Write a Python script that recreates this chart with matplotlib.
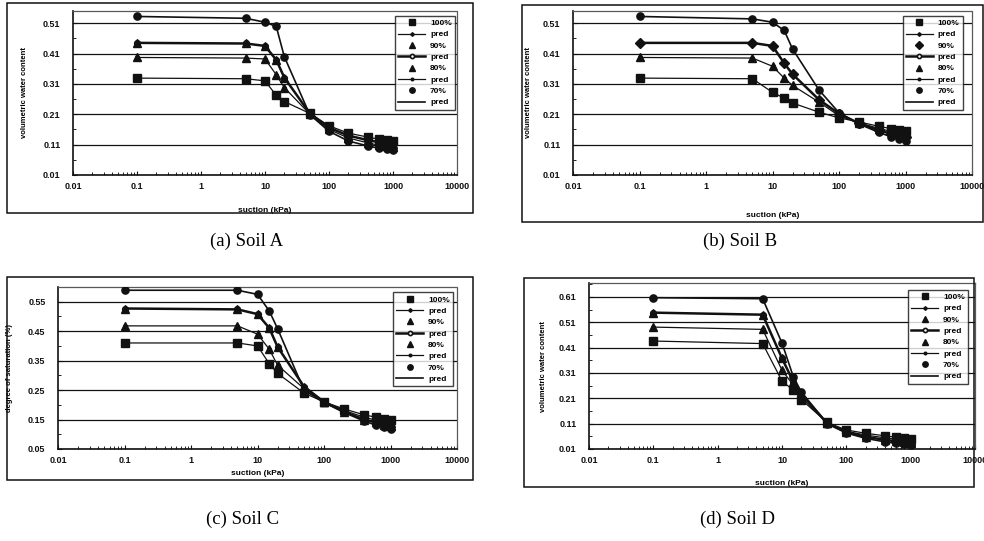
import numpy as np
import matplotlib.pyplot as plt
from matplotlib.patches import Rectangle
from matplotlib.ticker import FixedLocator, NullFormatter

plt.rcParams['font.family'] = ['Liberation Sans', 'DejaVu Sans']

suction = [0.1, 5, 10, 15, 20, 50, 100, 200, 400, 600, 800, 1000]
levels = ["100%", "90%", "80%", "70%"]
xtick_vals = [0.01, 0.1, 1, 10, 100, 1000, 10000]
xtick_labels = ["0.01", "0.1", "1", "10", "100", "1000", "10000"]

# soil A - volumetric water content
soilA_100 = [0.329, 0.327, 0.320, 0.272, 0.252, 0.213, 0.172, 0.148, 0.135, 0.128, 0.124, 0.122]
soilA_90 = [0.445, 0.443, 0.435, 0.389, 0.331, 0.213, 0.166, 0.140, 0.125, 0.118, 0.114, 0.112]
soilA_80 = [0.397, 0.395, 0.392, 0.340, 0.298, 0.211, 0.160, 0.132, 0.116, 0.108, 0.104, 0.102]
soilA_70 = [0.532, 0.526, 0.513, 0.499, 0.400, 0.209, 0.154, 0.122, 0.106, 0.098, 0.094, 0.092]

# soil B
soilB_100 = [0.329, 0.327, 0.282, 0.263, 0.247, 0.217, 0.198, 0.185, 0.170, 0.163, 0.158, 0.155]
soilB_90 = [0.445, 0.445, 0.435, 0.378, 0.342, 0.258, 0.212, 0.180, 0.157, 0.146, 0.139, 0.134]
soilB_80 = [0.397, 0.395, 0.368, 0.329, 0.305, 0.250, 0.205, 0.182, 0.163, 0.154, 0.148, 0.144]
soilB_70 = [0.532, 0.524, 0.513, 0.486, 0.425, 0.290, 0.215, 0.178, 0.150, 0.136, 0.128, 0.122]

# soil C - degree of saturation
soilC_100 = [0.410, 0.410, 0.400, 0.340, 0.307, 0.240, 0.210, 0.186, 0.166, 0.158, 0.153, 0.150]
soilC_90 = [0.527, 0.524, 0.508, 0.461, 0.397, 0.262, 0.210, 0.177, 0.150, 0.140, 0.133, 0.128]
soilC_80 = [0.468, 0.468, 0.440, 0.389, 0.335, 0.255, 0.210, 0.181, 0.158, 0.148, 0.142, 0.138]
soilC_70 = [0.589, 0.589, 0.575, 0.519, 0.459, 0.250, 0.208, 0.174, 0.145, 0.131, 0.123, 0.118]

# soil D
soilD_100 = [0.436, 0.426, 0.278, 0.242, 0.205, 0.115, 0.085, 0.072, 0.062, 0.056, 0.053, 0.051]
soilD_90 = [0.548, 0.540, 0.368, 0.275, 0.228, 0.112, 0.077, 0.058, 0.046, 0.040, 0.037, 0.035]
soilD_80 = [0.491, 0.482, 0.321, 0.262, 0.215, 0.113, 0.080, 0.065, 0.054, 0.048, 0.045, 0.043]
soilD_70 = [0.607, 0.603, 0.428, 0.295, 0.235, 0.110, 0.073, 0.052, 0.038, 0.032, 0.029, 0.027]

yticksA = [0.01, 0.11, 0.21, 0.31, 0.41, 0.51]
yticksC = [0.05, 0.15, 0.25, 0.35, 0.45, 0.55]
yticksD = [0.01, 0.11, 0.21, 0.31, 0.41, 0.51, 0.61]

panels = [
    dict(data=[soilA_100, soilA_90, soilA_80, soilA_70], yticks=yticksA, ylim=(0.01, 0.55),
         ylabel="volumetric water content", caption="(a) Soil A",
         ax=[73, 11, 457, 175], frame=[7, 3, 473, 213], mk=['s', '^', '^', 'o'],
         leg=(0.995, 0.97), ylab_x=-0.117, xlab_y=-0.195, cap=(247, 241)),
    dict(data=[soilB_100, soilB_90, soilB_80, soilB_70], yticks=yticksA, ylim=(0.01, 0.55),
         ylabel="volumetric water content", caption="(b) Soil B",
         ax=[573, 11, 972, 175], frame=[522, 5, 983, 222], mk=['s', 'D', '^', 'o'],
         leg=(0.977, 0.97), ylab_x=-0.103, xlab_y=-0.227, cap=(740, 241)),
    dict(data=[soilC_100, soilC_90, soilC_80, soilC_70], yticks=yticksC, ylim=(0.05, 0.60),
         ylabel="degree of saturation (%)", caption="(c) Soil C",
         ax=[58, 287, 457, 449], frame=[7, 277, 473, 480], mk=['s', '^', '^', 'o'],
         leg=(0.99, 0.967), ylab_x=-0.113, xlab_y=-0.13, cap=(243, 519)),
    dict(data=[soilD_100, soilD_90, soilD_80, soilD_70], yticks=yticksD, ylim=(0.01, 0.665),
         ylabel="volumetric water content", caption="(d) Soil D",
         ax=[589, 283, 975, 449], frame=[524, 278, 974, 487], mk=['s', '^', '^', 'o'],
         leg=(0.982, 0.958), ylab_x=-0.109, xlab_y=-0.187, cap=(738, 519)),
]

W, H = 984, 541
fig = plt.figure(figsize=(W / 100, H / 100), dpi=100)

pred_styles = [
    dict(lw=0.9, marker='D', ms=2.5),
    dict(lw=1.8, marker='o', ms=4, mfc='white', mew=1.2),
    dict(lw=0.9, marker='o', ms=2.5),
    dict(lw=1.2, marker=None),
]

for p in panels:
    x0, y0, x1, y1 = p['ax']
    ax = fig.add_axes([x0 / W, (H - y1) / H, (x1 - x0) / W, (y1 - y0) / H])
    fx0, fy0, fx1, fy1 = p['frame']
    fig.add_artist(Rectangle((fx0 / W, (H - fy1) / H), (fx1 - fx0) / W, (fy1 - fy0) / H,
                             transform=fig.transFigure, fill=False, lw=1.1, ec='#111111'))

    for i, vals in enumerate(p['data']):
        ax.plot(suction, vals, ls='none', marker=p['mk'][i], ms=5.2, color='#111111',
                label=levels[i], zorder=4)
        ax.plot(suction, vals, color='#111111', label="pred", zorder=3, **pred_styles[i])

    ax.set_xscale('log')
    ax.set_xlim(0.01, 10000)
    ax.set_ylim(*p['ylim'])
    ax.set_xticks(xtick_vals)
    ax.set_xticklabels(xtick_labels)
    ax.xaxis.set_minor_formatter(NullFormatter())
    ax.set_yticks(p['yticks'])
    ax.set_yticklabels(["%.2f" % v for v in p['yticks']])
    mids = [v + 0.05 for v in p['yticks'] if v + 0.05 < p['ylim'][1]]
    ax.yaxis.set_minor_locator(FixedLocator(mids))
    ax.yaxis.grid(True, color='#111111', lw=0.9)
    ax.set_axisbelow(True)
    ax.tick_params(axis='both', which='major', labelsize=6.5, direction='in', length=3,
                   colors='#111111')
    ax.tick_params(axis='y', which='major', pad=9)
    ax.tick_params(axis='x', which='major', pad=5)
    ax.tick_params(axis='both', which='minor', direction='in', length=2)
    for lab in ax.get_xticklabels() + ax.get_yticklabels():
        lab.set_fontweight('bold')
    for s in ['top', 'right']:
        ax.spines[s].set_linestyle((0, (1, 1)))
        ax.spines[s].set_color('0.35')
        ax.spines[s].set_linewidth(0.9)
    for s in ['left', 'bottom']:
        ax.spines[s].set_linewidth(1.2)
        ax.spines[s].set_color('#111111')

    ax.set_ylabel(p['ylabel'], fontsize=5.5, fontweight='bold')
    ax.yaxis.set_label_coords(p['ylab_x'], 0.5)
    ax.set_xlabel("suction (kPa)", fontsize=6, fontweight='bold')
    ax.xaxis.set_label_coords(0.5, p['xlab_y'])

    leg = ax.legend(loc='upper right', bbox_to_anchor=p['leg'], borderaxespad=0,
                    prop=dict(weight='bold', size=6), frameon=True, markerscale=0.75,
                    fancybox=False, edgecolor='#111111', handlelength=3.2,
                    labelspacing=0.42, borderpad=0.4, handletextpad=0.6)
    leg.get_frame().set_linewidth(1.0)
    leg.set_zorder(10)

    fig.text(p['cap'][0] / W, (H - p['cap'][1]) / H, p['caption'], ha='center', va='center',
             fontsize=13.5, family=['Liberation Serif', 'DejaVu Serif'])

fig.savefig("out.png", dpi=100)
